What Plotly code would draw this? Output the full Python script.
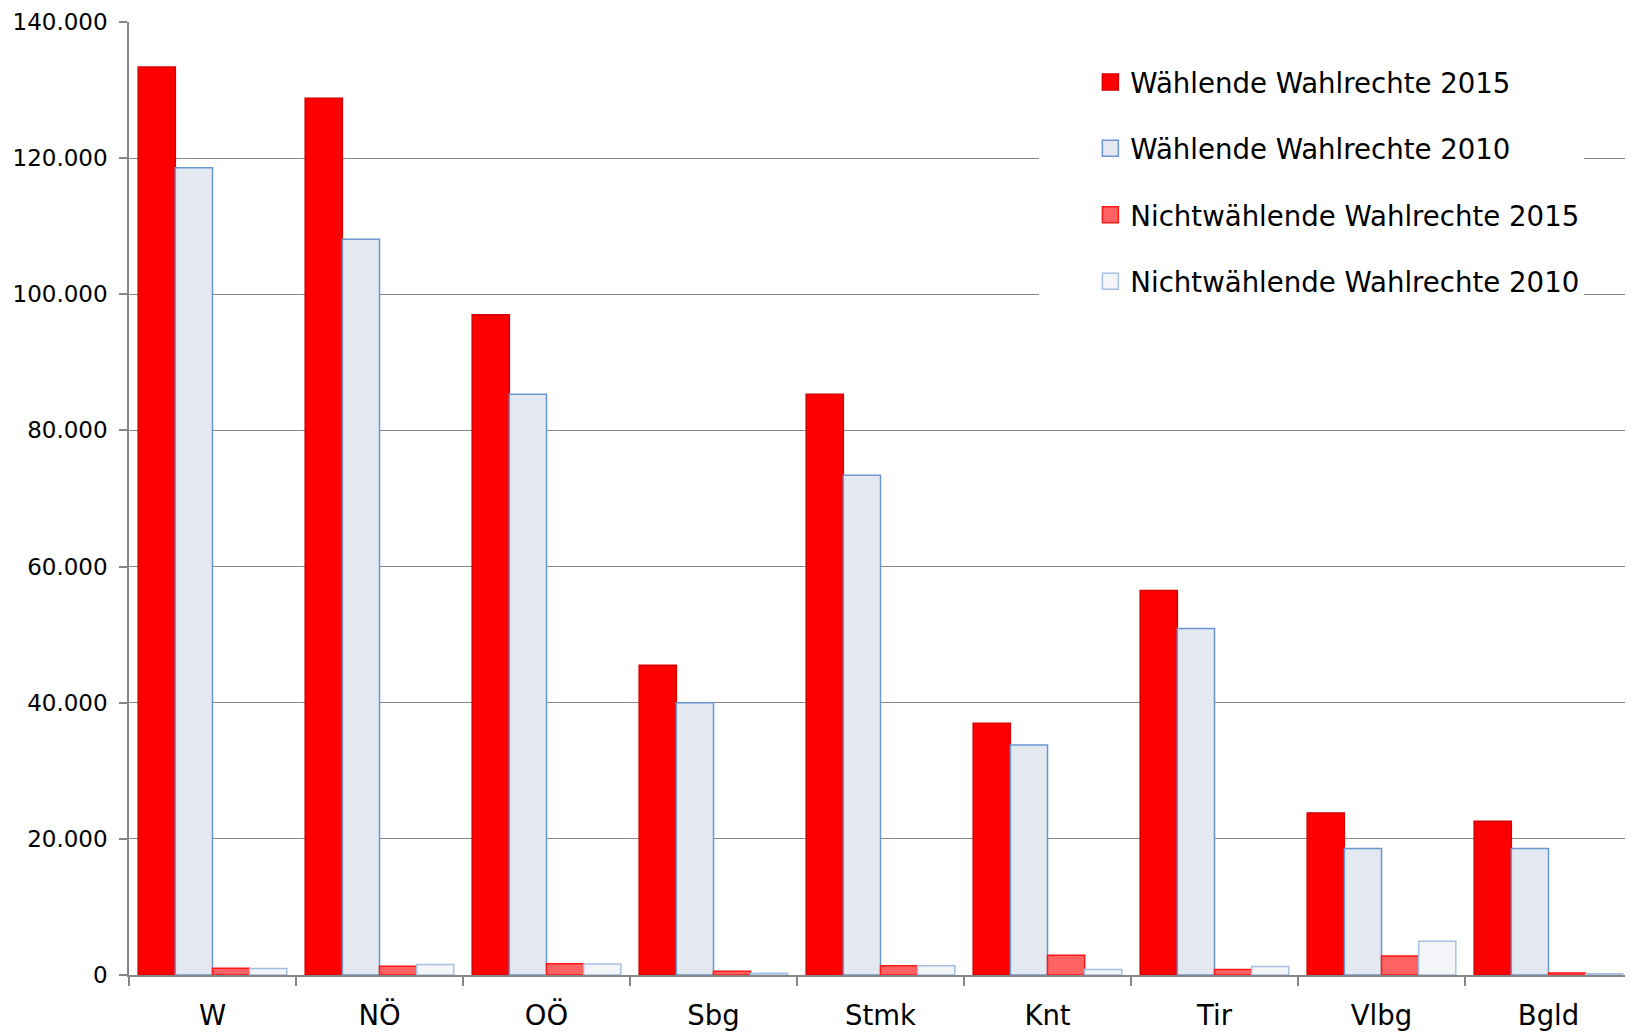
import plotly.graph_objects as go

categories = ["W", "NÖ", "OÖ", "Sbg", "Stmk", "Knt", "Tir", "Vlbg", "Bgld"]
waehlende_2015 = [133400, 128800, 97000, 45500, 85300, 37000, 56500, 23800, 22600]
waehlende_2010 = [118600, 108100, 85300, 40000, 73400, 33800, 50900, 18600, 18600]
nicht_2015 = [1000, 1300, 1650, 550, 1350, 2900, 800, 2800, 300]
nicht_2010 = [950, 1550, 1600, 250, 1350, 800, 1250, 4950, 200]
series_names = [
    "Wählende Wahlrechte 2015",
    "Wählende Wahlrechte 2010",
    "Nichtwählende Wahlrechte 2015",
    "Nichtwählende Wahlrechte 2010",
]
y_tickvals = [0, 20000, 40000, 60000, 80000, 100000, 120000, 140000]

fills = ["#FF0000", "#E4E8F1", "#FF6262", "#F3F5F8"]
lines = ["#D80000", "#6A96D2", "#FF1A1A", "#A6C0E2"]
series = [waehlende_2015, waehlende_2010, nicht_2015, nicht_2010]

FONT = "DejaVu Sans"
fig = go.Figure()
for name, vals, fc, lc in zip(series_names, series, fills, lines):
    fig.add_trace(go.Bar(
        x=categories, y=vals, name=name, showlegend=False,
        marker=dict(color=fc, line=dict(color=lc, width=1.5)),
    ))
for i, (name, fc, lc) in enumerate(zip(series_names, fills, lines)):
    fig.add_trace(go.Scatter(
        x=[None], y=[None], mode="markers", name=name,
        legendgroup=f"g{i}",
        marker=dict(symbol="square", size=16, color=fc, line=dict(color=lc, width=1.5)),
    ))

fig.update_layout(
    width=1625, height=1024,
    margin=dict(l=121, r=1, t=14, b=57, autoexpand=False),
    paper_bgcolor="white", plot_bgcolor="white",
    barmode="group", bargap=0.11, bargroupgap=0,
    separators=",.",
    font=dict(family=FONT, color="black"),
    legend=dict(
        x=0.6057, xanchor="left", y=0.9627, yanchor="top",
        bgcolor="white", borderwidth=0,
        font=dict(family=FONT, size=27.6, color="black"),
        traceorder="grouped", tracegroupgap=27.5,
        indentation=51,
    ),
    showlegend=True,
)
fig.update_xaxes(
    type="category", tickson="boundaries", automargin=False,
    ticks="outside", ticklen=9, tickcolor="#868686", tickwidth=1.5,
    showline=True, linecolor="#868686", linewidth=1.5,
    showgrid=False,
    tickfont=dict(family=FONT, size=27.5, color="black"),
    ticklabelstandoff=15,
)
fig.update_yaxes(
    range=[0, 140000], tickvals=y_tickvals, tickformat=",d", automargin=False,
    ticks="outside", ticklen=8, tickcolor="#868686", tickwidth=1.5,
    showline=True, linecolor="#868686", linewidth=1.5,
    showgrid=True, gridcolor="#868686", gridwidth=1.2,
    zeroline=False,
    tickfont=dict(family=FONT, size=23, color="black"),
    ticklabelstandoff=7,
)
fig.write_html("out.html")
